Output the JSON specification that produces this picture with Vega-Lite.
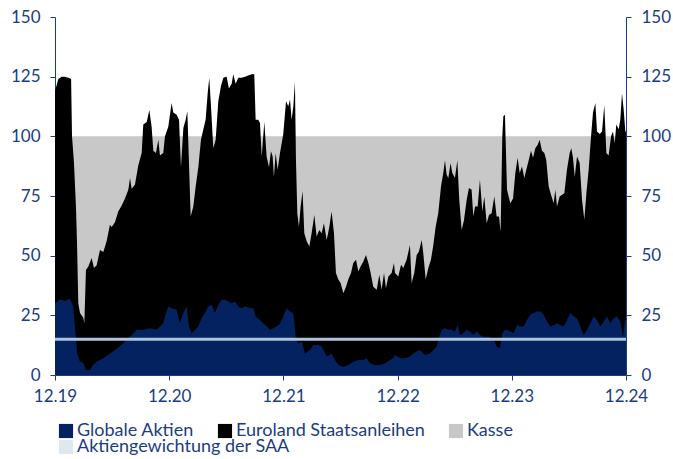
{
"$schema": "https://vega.github.io/schema/vega-lite/v6.json",
"width": 571, "height": 358,
"autosize": {"type": "none"},
"padding": {"left": 55, "top": 17, "right": 47, "bottom": 84},
"config": {
  "font": "Lato",
  "view": {"stroke": null},
  "axis": {"grid": false, "labelColor": "#1b3c84", "labelFontSize": 17, "domainColor": "#1b3c84", "tickColor": "#1b3c84", "tickSize": 5, "domainWidth": 1, "tickWidth": 1, "title": null},
  "legend": {"orient": "none", "direction": "horizontal", "symbolType": "square", "symbolSize": 200, "symbolStrokeWidth": 0, "symbolOpacity": 1, "labelFontSize": 18, "labelLimit": 0, "labelColor": "#1b3c84", "labelOffset": 2, "columnPadding": 22, "padding": 0, "title": null}
},
"datasets": {
  "kasse": [{"t": 2019.917, "v": 100}, {"t": 2024.917, "v": 100}],
  "saa": [{"t": 2019.917, "v": 15}, {"t": 2024.917, "v": 15}],
  "gesamt": [
{"t":2019.917,"v":119},{"t":2019.946,"v":124},{"t":2019.975,"v":125},{"t":2020.004,"v":125},{"t":2020.034,"v":124.5},{"t":2020.058,"v":124},{"t":2020.066,"v":100},{"t":2020.083,"v":89},{"t":2020.101,"v":70},{"t":2020.110,"v":55},{"t":2020.121,"v":30},{"t":2020.136,"v":26},{"t":2020.165,"v":24},{"t":2020.174,"v":21.7},{"t":2020.188,"v":44},{"t":2020.209,"v":45.5},{"t":2020.238,"v":49},{"t":2020.258,"v":44.8},{"t":2020.282,"v":46},{"t":2020.311,"v":52.4},{"t":2020.340,"v":51.5},{"t":2020.369,"v":56},{"t":2020.398,"v":63},{"t":2020.413,"v":62},{"t":2020.442,"v":64},{"t":2020.471,"v":68.5},{"t":2020.501,"v":71},{"t":2020.530,"v":74},{"t":2020.559,"v":77.6},{"t":2020.574,"v":82.5},{"t":2020.588,"v":78},{"t":2020.617,"v":79.7},{"t":2020.647,"v":88},{"t":2020.676,"v":93},{"t":2020.690,"v":105},{"t":2020.720,"v":106},{"t":2020.743,"v":111},{"t":2020.763,"v":104},{"t":2020.778,"v":94},{"t":2020.801,"v":93},{"t":2020.822,"v":98.6},{"t":2020.836,"v":92},{"t":2020.865,"v":93},
{"t":2020.880,"v":100},{"t":2020.909,"v":104},{"t":2020.938,"v":114},{"t":2020.953,"v":110},{"t":2020.982,"v":109},{"t":2021.003,"v":107},{"t":2021.020,"v":87},{"t":2021.041,"v":103.5},{"t":2021.061,"v":107},{"t":2021.076,"v":110.5},{"t":2021.090,"v":89},{"t":2021.105,"v":66.4},{"t":2021.128,"v":70.6},{"t":2021.149,"v":79},{"t":2021.172,"v":87},{"t":2021.195,"v":98.6},{"t":2021.216,"v":103},{"t":2021.236,"v":107},{"t":2021.254,"v":118},{"t":2021.268,"v":124.5},{"t":2021.283,"v":112.6},{"t":2021.303,"v":95},{"t":2021.324,"v":98.6},{"t":2021.347,"v":114.7},{"t":2021.370,"v":121},{"t":2021.391,"v":124.5},{"t":2021.420,"v":125},{"t":2021.440,"v":120},{"t":2021.464,"v":122},{"t":2021.478,"v":126},{"t":2021.499,"v":122},{"t":2021.522,"v":124.5},{"t":2021.551,"v":124.5},{"t":2021.581,"v":125},{"t":2021.610,"v":125.5},{"t":2021.639,"v":126},{"t":2021.662,"v":126},{"t":2021.674,"v":107},{"t":2021.697,"v":107},{"t":2021.712,"v":105.6},{"t":2021.727,"v":91.6},{"t":2021.750,"v":106},{"t":2021.770,"v":91.6},{"t":2021.791,"v":87},{"t":2021.808,"v":93.7},{"t":2021.823,"v":91.6},{"t":2021.834,"v":83},{"t":2021.849,"v":93},{"t":2021.867,"v":86},
{"t":2021.887,"v":93},{"t":2021.916,"v":101},{"t":2021.940,"v":114.7},{"t":2021.960,"v":112.6},{"t":2021.975,"v":115.4},{"t":2021.989,"v":107},{"t":2022.004,"v":112.6},{"t":2022.018,"v":123},{"t":2022.027,"v":90},{"t":2022.039,"v":67.8},{"t":2022.053,"v":62},{"t":2022.068,"v":70.6},{"t":2022.085,"v":77},{"t":2022.100,"v":59.4},{"t":2022.121,"v":56},{"t":2022.144,"v":53.8},{"t":2022.164,"v":59.4},{"t":2022.188,"v":67},{"t":2022.208,"v":58},{"t":2022.231,"v":60.8},{"t":2022.252,"v":59.4},{"t":2022.272,"v":63.6},{"t":2022.296,"v":56.6},{"t":2022.319,"v":62},{"t":2022.339,"v":68.5},{"t":2022.360,"v":59.4},{"t":2022.377,"v":42.7},{"t":2022.398,"v":40},{"t":2022.418,"v":38.5},{"t":2022.442,"v":34.3},{"t":2022.465,"v":37},{"t":2022.485,"v":40},{"t":2022.509,"v":42.7},{"t":2022.529,"v":46.9},{"t":2022.553,"v":48.3},{"t":2022.573,"v":43.4},{"t":2022.593,"v":45.5},{"t":2022.617,"v":47.6},{"t":2022.640,"v":50.3},{"t":2022.661,"v":46.9},{"t":2022.681,"v":42.7},{"t":2022.704,"v":37},{"t":2022.734,"v":35.7},{"t":2022.757,"v":42},{"t":2022.777,"v":35.7},{"t":2022.798,"v":42.7},{"t":2022.815,"v":36.4},{"t":2022.836,"v":41.3},{"t":2022.865,"v":42.7},{"t":2022.885,"v":46.9},
{"t":2022.894,"v":42.7},{"t":2022.923,"v":41.3},{"t":2022.947,"v":46.2},{"t":2022.967,"v":44.8},{"t":2022.996,"v":48.3},{"t":2023.025,"v":54.5},{"t":2023.040,"v":38.5},{"t":2023.063,"v":42.7},{"t":2023.084,"v":50.3},{"t":2023.104,"v":51.7},{"t":2023.128,"v":56.6},{"t":2023.142,"v":51},{"t":2023.163,"v":40},{"t":2023.186,"v":44.8},{"t":2023.209,"v":48.3},{"t":2023.230,"v":54.5},{"t":2023.250,"v":62},{"t":2023.273,"v":67.8},{"t":2023.297,"v":79},{"t":2023.317,"v":84.6},{"t":2023.332,"v":90},{"t":2023.346,"v":84},{"t":2023.361,"v":82.5},{"t":2023.381,"v":88.8},{"t":2023.396,"v":84.6},{"t":2023.419,"v":82.5},{"t":2023.440,"v":90},{"t":2023.457,"v":73.4},{"t":2023.478,"v":60.8},{"t":2023.498,"v":64.8},{"t":2023.522,"v":73.4},{"t":2023.542,"v":78.3},{"t":2023.565,"v":77.6},{"t":2023.580,"v":66.4},{"t":2023.595,"v":70.6},{"t":2023.618,"v":70.6},{"t":2023.638,"v":81.8},{"t":2023.659,"v":68.5},{"t":2023.676,"v":74.8},{"t":2023.697,"v":63.6},{"t":2023.717,"v":67},{"t":2023.740,"v":67.8},{"t":2023.764,"v":74.8},{"t":2023.784,"v":66.4},{"t":2023.805,"v":66.4},{"t":2023.819,"v":60},{"t":2023.834,"v":100},{"t":2023.843,"v":108.4},{"t":2023.857,"v":109},
{"t":2023.875,"v":77.6},{"t":2023.904,"v":72},{"t":2023.928,"v":74},{"t":2023.948,"v":84.6},{"t":2023.968,"v":91},{"t":2023.986,"v":84.6},{"t":2024.006,"v":87.4},{"t":2024.027,"v":82.5},{"t":2024.044,"v":86},{"t":2024.065,"v":90},{"t":2024.085,"v":94},{"t":2024.103,"v":91},{"t":2024.123,"v":95},{"t":2024.144,"v":96.5},{"t":2024.161,"v":98.6},{"t":2024.181,"v":94},{"t":2024.202,"v":93},{"t":2024.219,"v":90},{"t":2024.240,"v":79},{"t":2024.260,"v":75.5},{"t":2024.284,"v":72},{"t":2024.298,"v":77.6},{"t":2024.313,"v":70.6},{"t":2024.336,"v":74.8},{"t":2024.357,"v":75.5},{"t":2024.377,"v":76.2},{"t":2024.400,"v":86},{"t":2024.424,"v":93},{"t":2024.438,"v":95},{"t":2024.453,"v":91},{"t":2024.468,"v":83},{"t":2024.488,"v":91.6},{"t":2024.511,"v":88.8},{"t":2024.532,"v":73.4},{"t":2024.552,"v":65},{"t":2024.570,"v":76.2},{"t":2024.590,"v":86},{"t":2024.611,"v":100},{"t":2024.628,"v":110},{"t":2024.649,"v":114},{"t":2024.663,"v":102},{"t":2024.687,"v":101},{"t":2024.707,"v":102},{"t":2024.727,"v":113},{"t":2024.745,"v":93},{"t":2024.765,"v":92},{"t":2024.786,"v":100},{"t":2024.803,"v":102},{"t":2024.818,"v":97},{"t":2024.832,"v":105},{"t":2024.853,"v":103},{"t":2024.867,"v":107},{"t":2024.882,"v":118},{"t":2024.897,"v":111},{"t":2024.911,"v":102},{"t":2024.917,"v":102}
  ],
  "aktien": [
{"t":2019.917,"v":30},{"t":2019.961,"v":31.7},{"t":2020.004,"v":31},{"t":2020.048,"v":32},{"t":2020.077,"v":28.7},{"t":2020.092,"v":20},{"t":2020.112,"v":9},{"t":2020.136,"v":5.6},{"t":2020.165,"v":5},{"t":2020.188,"v":2},{"t":2020.223,"v":2},{"t":2020.247,"v":4},{"t":2020.282,"v":5.6},{"t":2020.340,"v":7},{"t":2020.398,"v":9},{"t":2020.457,"v":11},{"t":2020.515,"v":13.3},{"t":2020.574,"v":16},{"t":2020.632,"v":19},{"t":2020.690,"v":19},{"t":2020.749,"v":19.6},{"t":2020.807,"v":19},{"t":2020.865,"v":21.7},
{"t":2020.880,"v":24.5},{"t":2020.909,"v":28.7},{"t":2020.938,"v":28},{"t":2020.982,"v":27.3},{"t":2021.011,"v":21.7},{"t":2021.041,"v":26},{"t":2021.070,"v":28.7},{"t":2021.090,"v":20.3},{"t":2021.114,"v":17.5},{"t":2021.143,"v":19},{"t":2021.172,"v":20.3},{"t":2021.201,"v":23.8},{"t":2021.230,"v":26},{"t":2021.259,"v":28.7},{"t":2021.289,"v":29.4},{"t":2021.318,"v":26},{"t":2021.347,"v":29.4},{"t":2021.376,"v":31.5},{"t":2021.405,"v":31.5},{"t":2021.435,"v":30.8},{"t":2021.464,"v":30},{"t":2021.493,"v":30.8},{"t":2021.522,"v":28.7},{"t":2021.551,"v":28},{"t":2021.581,"v":28.7},{"t":2021.624,"v":28},{"t":2021.654,"v":28},{"t":2021.674,"v":24.5},{"t":2021.712,"v":23},{"t":2021.741,"v":21.7},{"t":2021.770,"v":20.3},{"t":2021.799,"v":19},{"t":2021.829,"v":19.6},{"t":2021.858,"v":20.3},
{"t":2021.887,"v":21.5},{"t":2021.916,"v":24.5},{"t":2021.945,"v":28},{"t":2021.975,"v":26.6},{"t":2022.004,"v":26},{"t":2022.027,"v":14.7},{"t":2022.048,"v":13.3},{"t":2022.077,"v":14},{"t":2022.106,"v":9},{"t":2022.150,"v":10.5},{"t":2022.179,"v":12.6},{"t":2022.223,"v":12.6},{"t":2022.252,"v":11.9},{"t":2022.296,"v":7.7},{"t":2022.339,"v":9},{"t":2022.369,"v":6.3},{"t":2022.398,"v":4.2},{"t":2022.442,"v":3.5},{"t":2022.485,"v":4.2},{"t":2022.529,"v":5.6},{"t":2022.573,"v":6.3},{"t":2022.617,"v":6.3},{"t":2022.646,"v":7},{"t":2022.675,"v":4.9},{"t":2022.719,"v":4.2},{"t":2022.763,"v":4.2},{"t":2022.806,"v":4.9},{"t":2022.850,"v":6.3},{"t":2022.879,"v":7},
{"t":2022.894,"v":8.4},{"t":2022.938,"v":7},{"t":2022.982,"v":7},{"t":2023.025,"v":7.7},{"t":2023.055,"v":9},{"t":2023.084,"v":9.8},{"t":2023.113,"v":10.5},{"t":2023.157,"v":8.4},{"t":2023.200,"v":9},{"t":2023.230,"v":10.5},{"t":2023.259,"v":11.9},{"t":2023.279,"v":15.4},{"t":2023.303,"v":19},{"t":2023.332,"v":19.6},{"t":2023.361,"v":19},{"t":2023.390,"v":19},{"t":2023.419,"v":18.2},{"t":2023.443,"v":21},{"t":2023.463,"v":16.8},{"t":2023.492,"v":17.5},{"t":2023.522,"v":19},{"t":2023.551,"v":18.2},{"t":2023.580,"v":16.8},{"t":2023.609,"v":18.2},{"t":2023.638,"v":16.8},{"t":2023.668,"v":16},{"t":2023.711,"v":16},{"t":2023.755,"v":15.4},{"t":2023.784,"v":11.9},{"t":2023.813,"v":11.2},{"t":2023.834,"v":17.5},{"t":2023.857,"v":19},
{"t":2023.875,"v":19},{"t":2023.904,"v":18.2},{"t":2023.933,"v":17.5},{"t":2023.963,"v":21},{"t":2023.992,"v":20.3},{"t":2024.021,"v":20.3},{"t":2024.050,"v":23},{"t":2024.079,"v":25.2},{"t":2024.109,"v":26},{"t":2024.138,"v":26.6},{"t":2024.167,"v":26.6},{"t":2024.196,"v":25.2},{"t":2024.225,"v":22.4},{"t":2024.254,"v":20.3},{"t":2024.284,"v":21},{"t":2024.313,"v":21.7},{"t":2024.342,"v":21},{"t":2024.371,"v":20.3},{"t":2024.400,"v":23},{"t":2024.430,"v":26},{"t":2024.459,"v":24.5},{"t":2024.488,"v":23.8},{"t":2024.517,"v":20.3},{"t":2024.546,"v":16.8},{"t":2024.576,"v":19},{"t":2024.605,"v":21.7},{"t":2024.634,"v":24.5},{"t":2024.663,"v":23},{"t":2024.692,"v":20.3},{"t":2024.722,"v":22.4},{"t":2024.751,"v":24.5},{"t":2024.780,"v":21.7},{"t":2024.809,"v":23.8},{"t":2024.838,"v":24.5},{"t":2024.867,"v":22.4},{"t":2024.891,"v":16},{"t":2024.911,"v":23},{"t":2024.917,"v":23}
  ]
},
"encoding": {
  "x": {"field": "t", "type": "quantitative", "scale": {"domain": [2019.917, 2024.917], "nice": false, "zero": false},
        "axis": {"values": [2019.917, 2020.917, 2021.917, 2022.917, 2023.917, 2024.917], "labelExpr": "'12.' + format(floor(datum.value + 0.01) % 100, '02d')", "labelPadding": 8, "labelFlush": false}}
},
"layer": [
  {"data": {"name": "kasse"}, "mark": {"type": "area"},
   "encoding": {
     "y": {"field": "v", "type": "quantitative", "stack": null, "scale": {"domain": [0, 150], "nice": false}, "axis": {"orient": "left", "values": [0, 25, 50, 75, 100, 125, 150], "labelPadding": 10}},
     "color": {"datum": "Kasse",
       "scale": {"domain": ["Globale Aktien", "Euroland Staatsanleihen", "Kasse"], "range": ["#04225f", "#000000", "#c8c8c8"]},
       "legend": {"legendX": 2, "legendY": 405}}
   }},
  {"data": {"name": "gesamt"}, "mark": {"type": "area"},
   "encoding": {
     "y": {"field": "v", "type": "quantitative", "stack": null, "scale": {"domain": [0, 150], "nice": false}, "axis": null},
     "color": {"datum": "Euroland Staatsanleihen"}
   }},
  {"data": {"name": "aktien"}, "mark": {"type": "area"},
   "encoding": {
     "y": {"field": "v", "type": "quantitative", "stack": null, "scale": {"domain": [0, 150], "nice": false}, "axis": null},
     "color": {"datum": "Globale Aktien"}
   }},
  {"data": {"name": "saa"}, "mark": {"type": "area"},
   "encoding": {
     "y": {"datum": 0, "type": "quantitative", "scale": {"domain": [0, 150], "nice": false}, "axis": null},
     "fill": {"datum": "Aktiengewichtung der SAA", "scale": {"domain": ["Aktiengewichtung der SAA"], "range": ["#dde9ef"]},
       "legend": {"legendX": 2, "legendY": 421}}
   }},
  {"data": {"name": "saa"}, "mark": {"type": "line", "color": "#adc4dd", "strokeWidth": 3},
   "encoding": {
     "y": {"field": "v", "type": "quantitative", "scale": {"domain": [0, 150], "nice": false}, "axis": {"orient": "right", "values": [0, 25, 50, 75, 100, 125, 150], "labelPadding": 10}}
   }}
],
"resolve": {"scale": {"y": "independent"}}
}
